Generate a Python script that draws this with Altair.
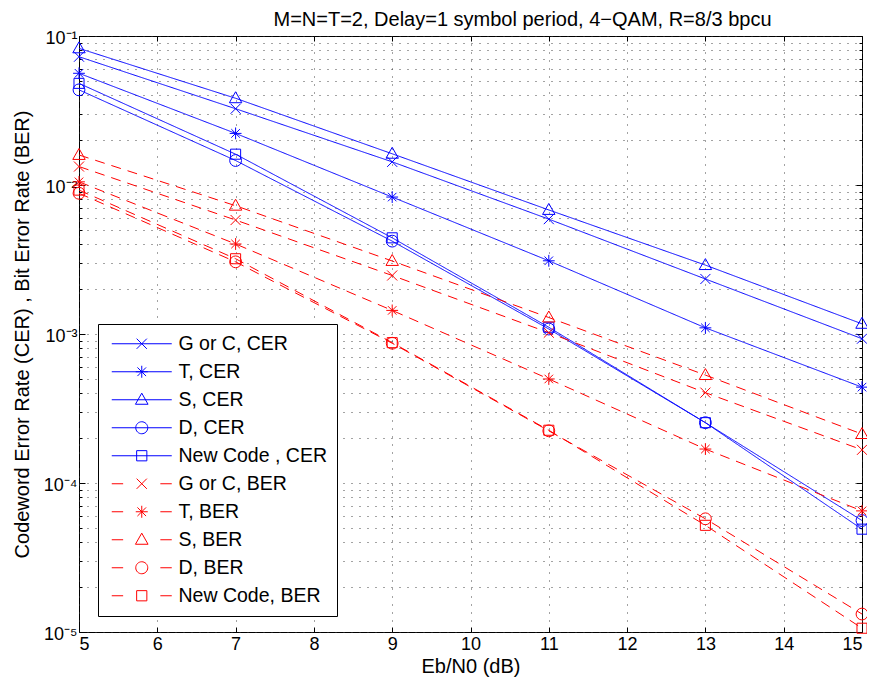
import altair as alt
import pandas as pd

# ---------------- data ----------------
ebn0 = [5, 7, 9, 11, 13, 15]

cer_gc = [0.0726, 0.0325, 0.0143, 0.0059, 0.00234, 0.00093]
cer_t = [0.0562, 0.0222, 0.0083, 0.0031, 0.0011, 0.00044]
cer_s = [0.0826, 0.0382, 0.0162, 0.0068, 0.0029, 0.00117]
cer_d = [0.0435, 0.0146, 0.0042, 0.00108, 0.000254, 5.6e-5]
cer_new = [0.0481, 0.0161, 0.00442, 0.00111, 0.000254, 4.9e-5]

ber_gc = [0.0133, 0.00582, 0.00247, 0.00102, 0.000404, 0.000167]
ber_t = [0.0105, 0.00402, 0.00144, 0.000499, 0.000169, 6.5e-5]
ber_s = [0.0159, 0.00726, 0.00309, 0.00129, 0.00053, 0.000213]
ber_d = [0.0088, 0.00305, 0.000867, 0.000224, 5.75e-5, 1.32e-5]
ber_new = [0.00924, 0.00320, 0.000875, 0.000226, 5.2e-5, 1.06e-5]

names = ["G or C, CER", "T, CER", "S, CER", "D, CER", "New Code , CER",
         "G or C, BER", "T, BER", "S, BER", "D, BER", "New Code, BER"]
series = [cer_gc, cer_t, cer_s, cer_d, cer_new,
          ber_gc, ber_t, ber_s, ber_d, ber_new]

title_text = "M=N=T=2, Delay=1 symbol period, 4\u2212QAM, R=8/3 bpcu"
x_title = "Eb/N0 (dB)"
y_title = "Codeword Error Rate (CER) , Bit Error Rate (BER)"
x_ticks = list(range(5, 16))

rows = []
for name, vals in zip(names, series):
    for x, v in zip(ebn0, vals):
        rows.append({"series": name, "x": x, "y": v})
df = pd.DataFrame(rows)

# ---------------- styling ----------------
BLUE = "#0000ff"
RED = "#ff0000"
colors = [BLUE] * 5 + [RED] * 5
dashes = [[1, 0]] * 5 + [[10, 7]] * 5

m_x = "M-0.85,-0.85L0.85,0.85M-0.85,0.85L0.85,-0.85"
m_star = "M-1,0H1M0,-1V1M-0.72,-0.72L0.72,0.72M-0.72,0.72L0.72,-0.72"
m_tri = "M0,-1.1L1.05,0.75H-1.05Z"
m_circ = "M1,0A1,1 0 1,1 -1,0A1,1 0 1,1 1,0Z"
m_sq = "M-0.85,-0.85H0.85V0.85H-0.85Z"
markers = [m_x, m_star, m_tri, m_circ, m_sq] * 2

solid_stub = "M-5,0H5"
dash_stub = "M-5,0H-3.1M3.1,0H5"
legend_shapes = [solid_stub + m for m in markers[:5]] + [dash_stub + m for m in markers[5:]]

FONT = "Liberation Sans"
W, H = 783, 596

exp_expr = "round(log(datum.value)/LN10)"
is_major = f"abs(log(datum.value)/LN10 - {exp_expr}) < 0.001"
label_expr = (
    f"!({is_major}) ? '' : "
    f"{exp_expr} == -1 ? '10\u207b\u00b9' : "
    f"{exp_expr} == -2 ? '10\u207b\u00b2' : "
    f"{exp_expr} == -3 ? '10\u207b\u00b3' : "
    f"{exp_expr} == -4 ? '10\u207b\u2074' : "
    f"{exp_expr} == -5 ? '10\u207b\u2075' : ''"
)
y_values = [k * 10.0 ** e for e in range(-5, -1) for k in range(1, 10)] + [0.1]

x_scale = alt.Scale(domain=[5, 15], nice=False, zero=False)
y_scale = alt.Scale(type="log", domain=[1e-5, 1e-1], nice=False)

y_tick_size = {"condition": {"test": is_major, "value": 6}, "value": 3}


def tick_axis_x(orient):
    return alt.Axis(orient=orient, offset=-H, values=x_ticks, labels=False, title=None,
                    grid=False, domain=False, ticks=True, tickSize=5,
                    tickColor="black", tickWidth=1)


def tick_axis_y(orient):
    return alt.Axis(orient=orient, offset=-W, values=y_values, labels=False, title=None,
                    grid=False, domain=False, ticks=True, tickSize=y_tick_size,
                    tickColor="black", tickWidth=1)


color_scale = alt.Scale(domain=names, range=colors)

lines = alt.Chart(df).mark_line(strokeWidth=1).encode(
    x=alt.X("x:Q", scale=x_scale,
            axis=alt.Axis(orient="bottom", values=x_ticks, title=x_title, format="d",
                          grid=True, ticks=False, domain=False,
                          labelPadding=3, titlePadding=3)),
    y=alt.Y("y:Q", scale=y_scale,
            axis=alt.Axis(orient="left", values=y_values, labelExpr=label_expr, title=y_title,
                          grid=True, ticks=False, domain=False, labelOffset=2,
                          labelPadding=2, titlePadding=11)),
    color=alt.Color("series:N", scale=color_scale, legend=None),
    strokeDash=alt.StrokeDash("series:N", scale=alt.Scale(domain=names, range=dashes), legend=None),
)

points = alt.Chart(df).mark_point(filled=False, size=140, strokeWidth=1, opacity=1).encode(
    x=alt.X("x:Q", scale=x_scale, axis=tick_axis_x("top")),
    y=alt.Y("y:Q", scale=y_scale, axis=tick_axis_y("right")),
    color=alt.Color("series:N", scale=color_scale, legend=None),
    shape=alt.Shape("series:N", scale=alt.Scale(domain=names, range=markers), legend=None),
)

# stroke colour of the legend symbols follows the entry (CER blue, BER red)
legend_color = alt.ExprRef(
    expr="indexof('' + (datum.value || datum.series || ''), 'BER') >= 0 ? '#ff0000' : '#0000ff'"
)
legend_layer = alt.Chart(df).mark_point(filled=False, size=140, strokeWidth=1, opacity=0,
                                        color=legend_color).encode(
    x=alt.X("x:Q", scale=x_scale, axis=tick_axis_x("bottom")),
    y=alt.Y("y:Q", scale=y_scale, axis=tick_axis_y("left")),
    shape=alt.Shape("series:N", scale=alt.Scale(domain=names, range=legend_shapes),
                    legend=alt.Legend(title=None)),
)

chart = alt.layer(lines, points, legend_layer).resolve_scale(
    shape="independent"
).resolve_axis(
    x="independent", y="independent"
).properties(
    width=W, height=H,
    title=alt.TitleParams(title_text, font=FONT, fontSize=20, fontWeight="normal",
                          color="black", anchor="middle", frame="group", dx=52,
                          offset=-1),
    autosize=alt.AutoSizeParams(type="none"),
    padding={"left": 71, "top": 28, "right": 5, "bottom": 48},
).configure_view(
    stroke="black", strokeWidth=1
).configure_axis(
    labelFont=FONT, titleFont=FONT, labelFontSize=18, titleFontSize=20,
    labelColor="black", titleColor="black", titleFontWeight="normal",
    gridColor="#333333", gridDash=[1, 7], gridWidth=1, gridOpacity=0.9,
).configure_legend(
    orient="none", legendX=19, legendY=288,
    labelFont=FONT, labelFontSize=19.5, labelColor="black",
    symbolSize=144, symbolStrokeWidth=1, symbolOpacity=1,
    strokeColor="black", fillColor="white", padding=10, rowPadding=7,
    labelOffset=27, symbolOffset=24, cornerRadius=0, symbolLimit=0,
)

chart.save("out.html", embed_options={"renderer": "svg", "actions": False})
